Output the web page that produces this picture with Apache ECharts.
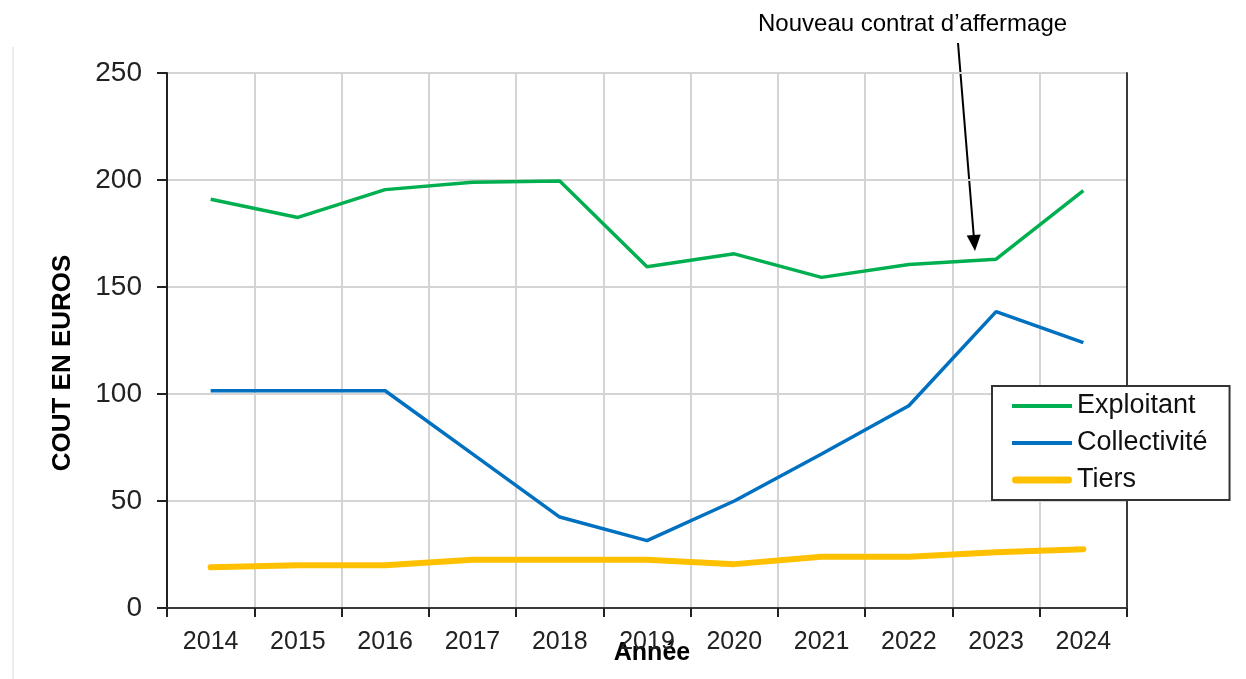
<!DOCTYPE html>
<html>
<head>
<meta charset="utf-8">
<script src="https://cdn.jsdelivr.net/npm/echarts@6/dist/echarts.min.js"></script>
<style>
  html, body { margin: 0; padding: 0; background: #fff; }
  #chart { width: 1246px; height: 679px; }
</style>
</head>
<body>
<div id="chart"></div>
<script>
// valeurs
const years = ['2014', '2015', '2016', '2017', '2018', '2019', '2020', '2021', '2022', '2023', '2024']
const exploitant = [191, 182.5, 195.5, 199, 199.5, 159.5, 165.5, 154.5, 160.5, 163, 195]
const collectivite = [101.5, 101.5, 101.5, 72, 42.5, 31.5, 50, 72, 94.5, 138.5, 124]
const tiers = [19, 20, 20, 22.5, 22.5, 22.5, 20.5, 24, 24, 26, 27.5]
const yTicks = [0, 50, 100, 150, 200, 250]

const font = 'Liberation Sans, Arial, sans-serif'

const chart = echarts.init(document.getElementById('chart'), null, {renderer: 'canvas'})

// flèche d'annotation
const arrowStart = [958, 43]
const arrowTip = [975, 251]
const dx = arrowTip[0] - arrowStart[0], dy = arrowTip[1] - arrowStart[1]
const len = Math.sqrt(dx * dx + dy * dy)
const ux = dx / len, uy = dy / len
const headLen = 16, headHalf = 7
const base = [arrowTip[0] - ux * headLen, arrowTip[1] - uy * headLen]

const frameAxis = {show: true, lineStyle: {color: '#3a3a3a', width: 2}}

const option = {
  backgroundColor: '#fff',
  animation: false,
  grid: {left: 167, right: 119, top: 73, bottom: 71, containLabel: false, outerBoundsMode: 'none'},
  legend: {
    orient: 'vertical',
    left: 992, top: 386,
    padding: [5, 22, 5, 20],
    itemWidth: 60, itemHeight: 14, itemGap: 7,
    borderColor: '#333', borderWidth: 2, backgroundColor: '#fff',
    textStyle: {fontFamily: font, fontSize: 27, color: '#111', lineHeight: 30},
    data: [
      {name: 'Exploitant', icon: 'path://M0,0H60V4H0Z'},
      {name: 'Collectivité', icon: 'path://M0,0H60V4H0Z'},
      {name: 'Tiers', icon: 'path://M3,0H57A3,3,0,0,1,57,7H3A3,3,0,0,1,3,0Z'}
    ]
  },
  xAxis: [
    {
      type: 'category',
      data: years,
      boundaryGap: true,
      axisLine: {lineStyle: {color: '#222', width: 2}},
      axisTick: {show: true, alignWithLabel: false, length: 9, lineStyle: {color: '#222', width: 2}},
      axisLabel: {fontFamily: font, fontSize: 25, color: '#222', margin: 22},
      splitLine: {show: true, lineStyle: {color: '#d4d4d4', width: 2}}
    },
    {
      type: 'category', data: years, position: 'top',
      axisLine: frameAxis, axisTick: {show: false}, axisLabel: {show: false}, splitLine: {show: false}
    }
  ],
  yAxis: [
    {
      type: 'value',
      min: yTicks[0], max: yTicks[yTicks.length - 1], interval: 50,
      axisLine: {show: true, lineStyle: {color: '#222', width: 2}},
      axisTick: {show: true, length: 10, lineStyle: {color: '#222', width: 2}},
      axisLabel: {fontFamily: font, fontSize: 28, color: '#222', margin: 25},
      splitLine: {show: true, lineStyle: {color: '#d4d4d4', width: 2}}
    },
    {
      type: 'value', position: 'right',
      min: yTicks[0], max: yTicks[yTicks.length - 1], interval: 50,
      axisLine: frameAxis, axisTick: {show: false}, axisLabel: {show: false}, splitLine: {show: false}
    }
  ],
  series: [
    {
      name: 'Exploitant', type: 'line', data: exploitant,
      symbol: 'none', color: '#00b050',
      lineStyle: {width: 3.5, color: '#00b050'}
    },
    {
      name: 'Collectivité', type: 'line', data: collectivite,
      symbol: 'none', color: '#0070c0',
      lineStyle: {width: 3.5, color: '#0070c0'}
    },
    {
      name: 'Tiers', type: 'line', data: tiers,
      symbol: 'none', color: '#ffc000',
      lineStyle: {width: 6, color: '#ffc000', cap: 'round'}
    }
  ],
  graphic: [
    {
      type: 'rect', left: 12, top: 47, silent: true,
      shape: {width: 2, height: 632}, style: {fill: '#ececec'}
    },
    {
      type: 'text', x: 63, y: 363, rotation: Math.PI / 2,
      style: {
        text: 'COUT EN EUROS', font: 'bold 26px ' + font, fill: '#000',
        align: 'center', verticalAlign: 'middle'
      }
    },
    {
      type: 'text', x: 652, y: 653,
      style: {
        text: 'Année', font: 'bold 25px ' + font, fill: '#000',
        align: 'center', verticalAlign: 'middle'
      }
    },
    {
      type: 'text', left: 758, top: 12,
      style: {text: 'Nouveau contrat d’affermage', font: '24px ' + font, fill: '#000'}
    },
    {
      type: 'line',
      shape: {x1: arrowStart[0], y1: arrowStart[1], x2: base[0], y2: base[1]},
      style: {stroke: '#000', lineWidth: 2}
    },
    {
      type: 'polygon',
      shape: {points: [
        arrowTip,
        [base[0] + uy * headHalf, base[1] - ux * headHalf],
        [base[0] - uy * headHalf, base[1] + ux * headHalf]
      ]},
      style: {fill: '#000'}
    }
  ]
}

chart.setOption(option)
</script>
</body>
</html>
